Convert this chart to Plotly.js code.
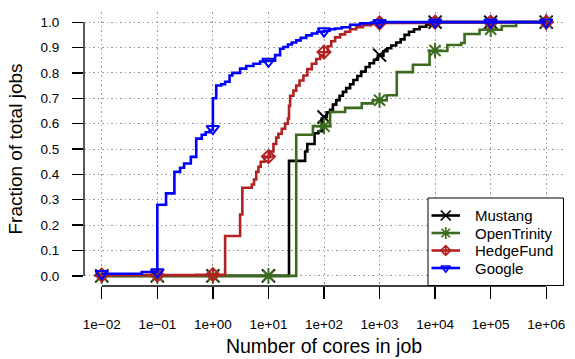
<!DOCTYPE html>
<html><head><meta charset="utf-8">
<script src="https://cdn.plot.ly/plotly-3.0.1.min.js"></script>
<style>html,body{margin:0;padding:0;background:#fff}</style>
</head><body>
<div id="chart" style="width:575px;height:359px"></div>
<script>
const seriesNames = ['Mustang', 'OpenTrinity', 'HedgeFund', 'Google'];
const seriesColors = ['#000000', '#3b6b1d', '#b22222', '#0000ff'];
const seriesSymbols = ['x-thin-open', 'asterisk-open', 'diamond-cross-open', 'triangle-down-open'];
const markerSizes = [13, 13, 10, 11];
const legendMarkerSizes = [10, 10, 7.5, 8];

const decadeCores = [0.01, 0.1, 1, 10, 100, 1000, 10000, 100000, 1000000];
const xTickLabels = ['1e\u221202', '1e\u221201', '1e+00', '1e+01', '1e+02', '1e+03', '1e+04', '1e+05', '1e+06'];
const yTickValues = [0, 0.1, 0.2, 0.3, 0.4, 0.5, 0.6, 0.7, 0.8, 0.9, 1.0];
const yTickLabels = ['0.0', '0.1', '0.2', '0.3', '0.4', '0.5', '0.6', '0.7', '0.8', '0.9', '1.0'];

// fraction of jobs at each decade (marker points)
const mustangAtDecades     = [0, 0, 0, 0, 0.626, 0.870, 1, 1, 1];
const openTrinityAtDecades = [0, 0, 0, 0, 0.590, 0.692, 0.888, 0.972, 1];
const hedgeFundAtDecades   = [0.003, 0.003, 0.005, 0.470, 0.882, 0.997, 1, 1, 1];
const googleAtDecades      = [0.008, 0.015, 0.580, 0.845, 0.965, 0.998, 1, 1, 1];

// step CDF curves: log10(cores) where the step occurs, fraction after the step
const mustangLogCores = [-2, 1.37, 1.66, 1.70, 1.83, 1.90, 1.96, 2.0, 2.05, 2.11, 2.16, 2.22, 2.28, 2.34, 2.40, 2.47, 2.53, 2.60, 2.67, 2.75, 2.82, 2.90, 2.97, 3.07, 3.14, 3.21, 3.30, 3.38, 3.45, 3.53, 3.62, 3.72, 3.84, 3.95, 4.0, 6.0];
const mustangFrac     = [0, 0.453, 0.49, 0.52, 0.562, 0.57, 0.62, 0.626, 0.645, 0.655, 0.675, 0.692, 0.71, 0.725, 0.74, 0.755, 0.772, 0.788, 0.805, 0.823, 0.838, 0.852, 0.868, 0.885, 0.897, 0.908, 0.92, 0.932, 0.95, 0.962, 0.972, 0.982, 0.99, 0.997, 1.0, 1.0];

const openTrinityLogCores = [-2, 1.50, 1.80, 2.11, 2.38, 2.68, 2.88, 3.13, 3.31, 3.60, 3.90, 4.22, 4.47, 4.53, 4.80, 5.20, 5.46, 6.0];
const openTrinityFrac     = [0, 0.556, 0.59, 0.646, 0.662, 0.68, 0.692, 0.712, 0.803, 0.832, 0.886, 0.91, 0.918, 0.953, 0.97, 0.985, 1.0, 1.0];

const hedgeFundLogCores = [-2, -0.3, 0.22, 0.49, 0.53, 0.70, 0.74, 0.78, 0.82, 0.86, 0.93, 1.03, 1.09, 1.14, 1.18, 1.24, 1.30, 1.35, 1.37, 1.39, 1.45, 1.50, 1.56, 1.63, 1.70, 1.78, 1.86, 1.93, 2.0, 2.07, 2.13, 2.20, 2.29, 2.38, 2.47, 2.58, 2.70, 2.85, 3.0, 4.0, 6.0];
const hedgeFundFrac     = [0.003, 0.004, 0.157, 0.242, 0.347, 0.36, 0.38, 0.41, 0.43, 0.45, 0.468, 0.49, 0.52, 0.545, 0.56, 0.58, 0.60, 0.62, 0.67, 0.71, 0.73, 0.75, 0.77, 0.79, 0.815, 0.836, 0.855, 0.87, 0.882, 0.905, 0.925, 0.94, 0.952, 0.962, 0.972, 0.98, 0.988, 0.993, 0.997, 1.0, 1.0];

const googleLogCores = [-2, -1.28, -1.0, -0.843, -0.693, -0.59, -0.518, -0.397, -0.30, -0.20, -0.13, -0.06, 0.0, 0.06, 0.15, 0.22, 0.30, 0.35, 0.49, 0.60, 0.73, 0.85, 0.95, 1.12, 1.21, 1.27, 1.35, 1.42, 1.50, 1.58, 1.68, 1.78, 1.88, 2.0, 2.10, 2.20, 2.32, 2.47, 2.65, 2.85, 3.0, 4.0, 6.0];
const googleFrac     = [0.008, 0.015, 0.28, 0.325, 0.41, 0.426, 0.443, 0.469, 0.541, 0.556, 0.566, 0.575, 0.70, 0.75, 0.755, 0.765, 0.79, 0.80, 0.817, 0.827, 0.836, 0.845, 0.848, 0.87, 0.895, 0.902, 0.912, 0.92, 0.928, 0.938, 0.948, 0.955, 0.962, 0.966, 0.972, 0.975, 0.98, 0.99, 0.995, 0.998, 1.0, 1.0, 1.0];

const curves = [
  {logx: mustangLogCores, y: mustangFrac, marks: mustangAtDecades},
  {logx: openTrinityLogCores, y: openTrinityFrac, marks: openTrinityAtDecades},
  {logx: hedgeFundLogCores, y: hedgeFundFrac, marks: hedgeFundAtDecades},
  {logx: googleLogCores, y: googleFrac, marks: googleAtDecades}
];

// Legend drawn on an overlay axis pair measured in plot-area pixels (480 x 274)
const plotW = 480, plotH = 274;
const legendBox = {x0: 344, x1: 479.5, y0: 0.5, y1: 88};
const legendRowY = [70.5, 53, 35.5, 18];
const legendLineX = [347.5, 376];
const legendTextX = 388.5;

const traces = [];
curves.forEach((c, i) => {
  traces.push({
    x: c.logx.map(v => Math.pow(10, v)), y: c.y, type: 'scatter', mode: 'lines',
    line: {color: seriesColors[i], width: 2.6, shape: 'hv'}, showlegend: false, hoverinfo: 'skip'
  });
  traces.push({
    x: decadeCores, y: c.marks, type: 'scatter', mode: 'markers',
    marker: {symbol: seriesSymbols[i], size: markerSizes[i], color: seriesColors[i], line: {color: seriesColors[i], width: 2}},
    showlegend: false
  });
});
// legend frame (white box with black border)
traces.push({
  x: [legendBox.x0, legendBox.x1, legendBox.x1, legendBox.x0, legendBox.x0],
  y: [legendBox.y0, legendBox.y0, legendBox.y1, legendBox.y1, legendBox.y0],
  xaxis: 'x2', yaxis: 'y2', type: 'scatter', mode: 'lines', fill: 'toself', fillcolor: '#ffffff',
  line: {color: '#000', width: 1}, showlegend: false, hoverinfo: 'skip'
});
seriesNames.forEach((n, i) => {
  traces.push({
    x: legendLineX, y: [legendRowY[i], legendRowY[i]], xaxis: 'x2', yaxis: 'y2',
    type: 'scatter', mode: 'lines', line: {color: seriesColors[i], width: 2.6}, showlegend: false, hoverinfo: 'skip'
  });
  traces.push({
    x: [(legendLineX[0] + legendLineX[1]) / 2], y: [legendRowY[i]], xaxis: 'x2', yaxis: 'y2',
    type: 'scatter', mode: 'markers', showlegend: false, hoverinfo: 'skip',
    marker: {symbol: seriesSymbols[i], size: legendMarkerSizes[i], color: seriesColors[i], line: {color: seriesColors[i], width: 1.7}}
  });
});

const xr = [-2.32, 6.32];
const frac = v => (Math.log10(v) - xr[0]) / (xr[1] - xr[0]);

const annotations = seriesNames.map((n, i) => ({
  text: n, xref: 'x2', yref: 'y2', x: legendTextX, y: legendRowY[i], xanchor: 'left', yanchor: 'middle',
  showarrow: false, font: {size: 15, color: '#000'}
}));

const layout = {
  width: 575, height: 359,
  margin: {l: 84, r: 11, t: 12, b: 73, pad: 0},
  paper_bgcolor: '#fff', plot_bgcolor: '#fff',
  font: {family: 'Liberation Sans, Arial, sans-serif', color: '#000', size: 13.5},
  showlegend: false,
  xaxis: {type: 'log', range: xr, tickvals: decadeCores, ticktext: xTickLabels,
          ticks: 'outside', ticklen: 12, tickwidth: 1.3, tickcolor: '#000', showline: false, zeroline: false,
          showgrid: true, gridcolor: '#999', griddash: '1.5px,3px', gridwidth: 1,
          ticklabelstandoff: 14, fixedrange: true,
          title: {text: 'Number of cores in job', font: {size: 19.5}, standoff: 8}},
  yaxis: {range: [-0.04, 1.04], tickvals: yTickValues, ticktext: yTickLabels,
          ticks: 'outside', ticklen: 11, tickwidth: 1.3, tickcolor: '#000', showline: false, zeroline: false,
          showgrid: true, gridcolor: '#999', griddash: '1.5px,3px', gridwidth: 1,
          ticklabelstandoff: 10, fixedrange: true,
          title: {text: 'Fraction of total jobs', font: {size: 19}, standoff: 12}},
  xaxis2: {overlaying: 'x', range: [0, plotW], visible: false, fixedrange: true},
  yaxis2: {overlaying: 'y', range: [0, plotH], visible: false, fixedrange: true},
  annotations: annotations,
  shapes: [
    {type: 'line', xref: 'paper', yref: 'y', x0: 0, x1: 0, y0: 0, y1: 1, line: {color: '#000', width: 1.3}},
    {type: 'line', xref: 'paper', yref: 'paper', x0: frac(decadeCores[0]), x1: frac(decadeCores[decadeCores.length - 1]), y0: 0, y1: 0, line: {color: '#000', width: 1.3}}
  ]
};

Plotly.newPlot('chart', traces, layout, {displayModeBar: false, staticPlot: true});
</script>
</body></html>
